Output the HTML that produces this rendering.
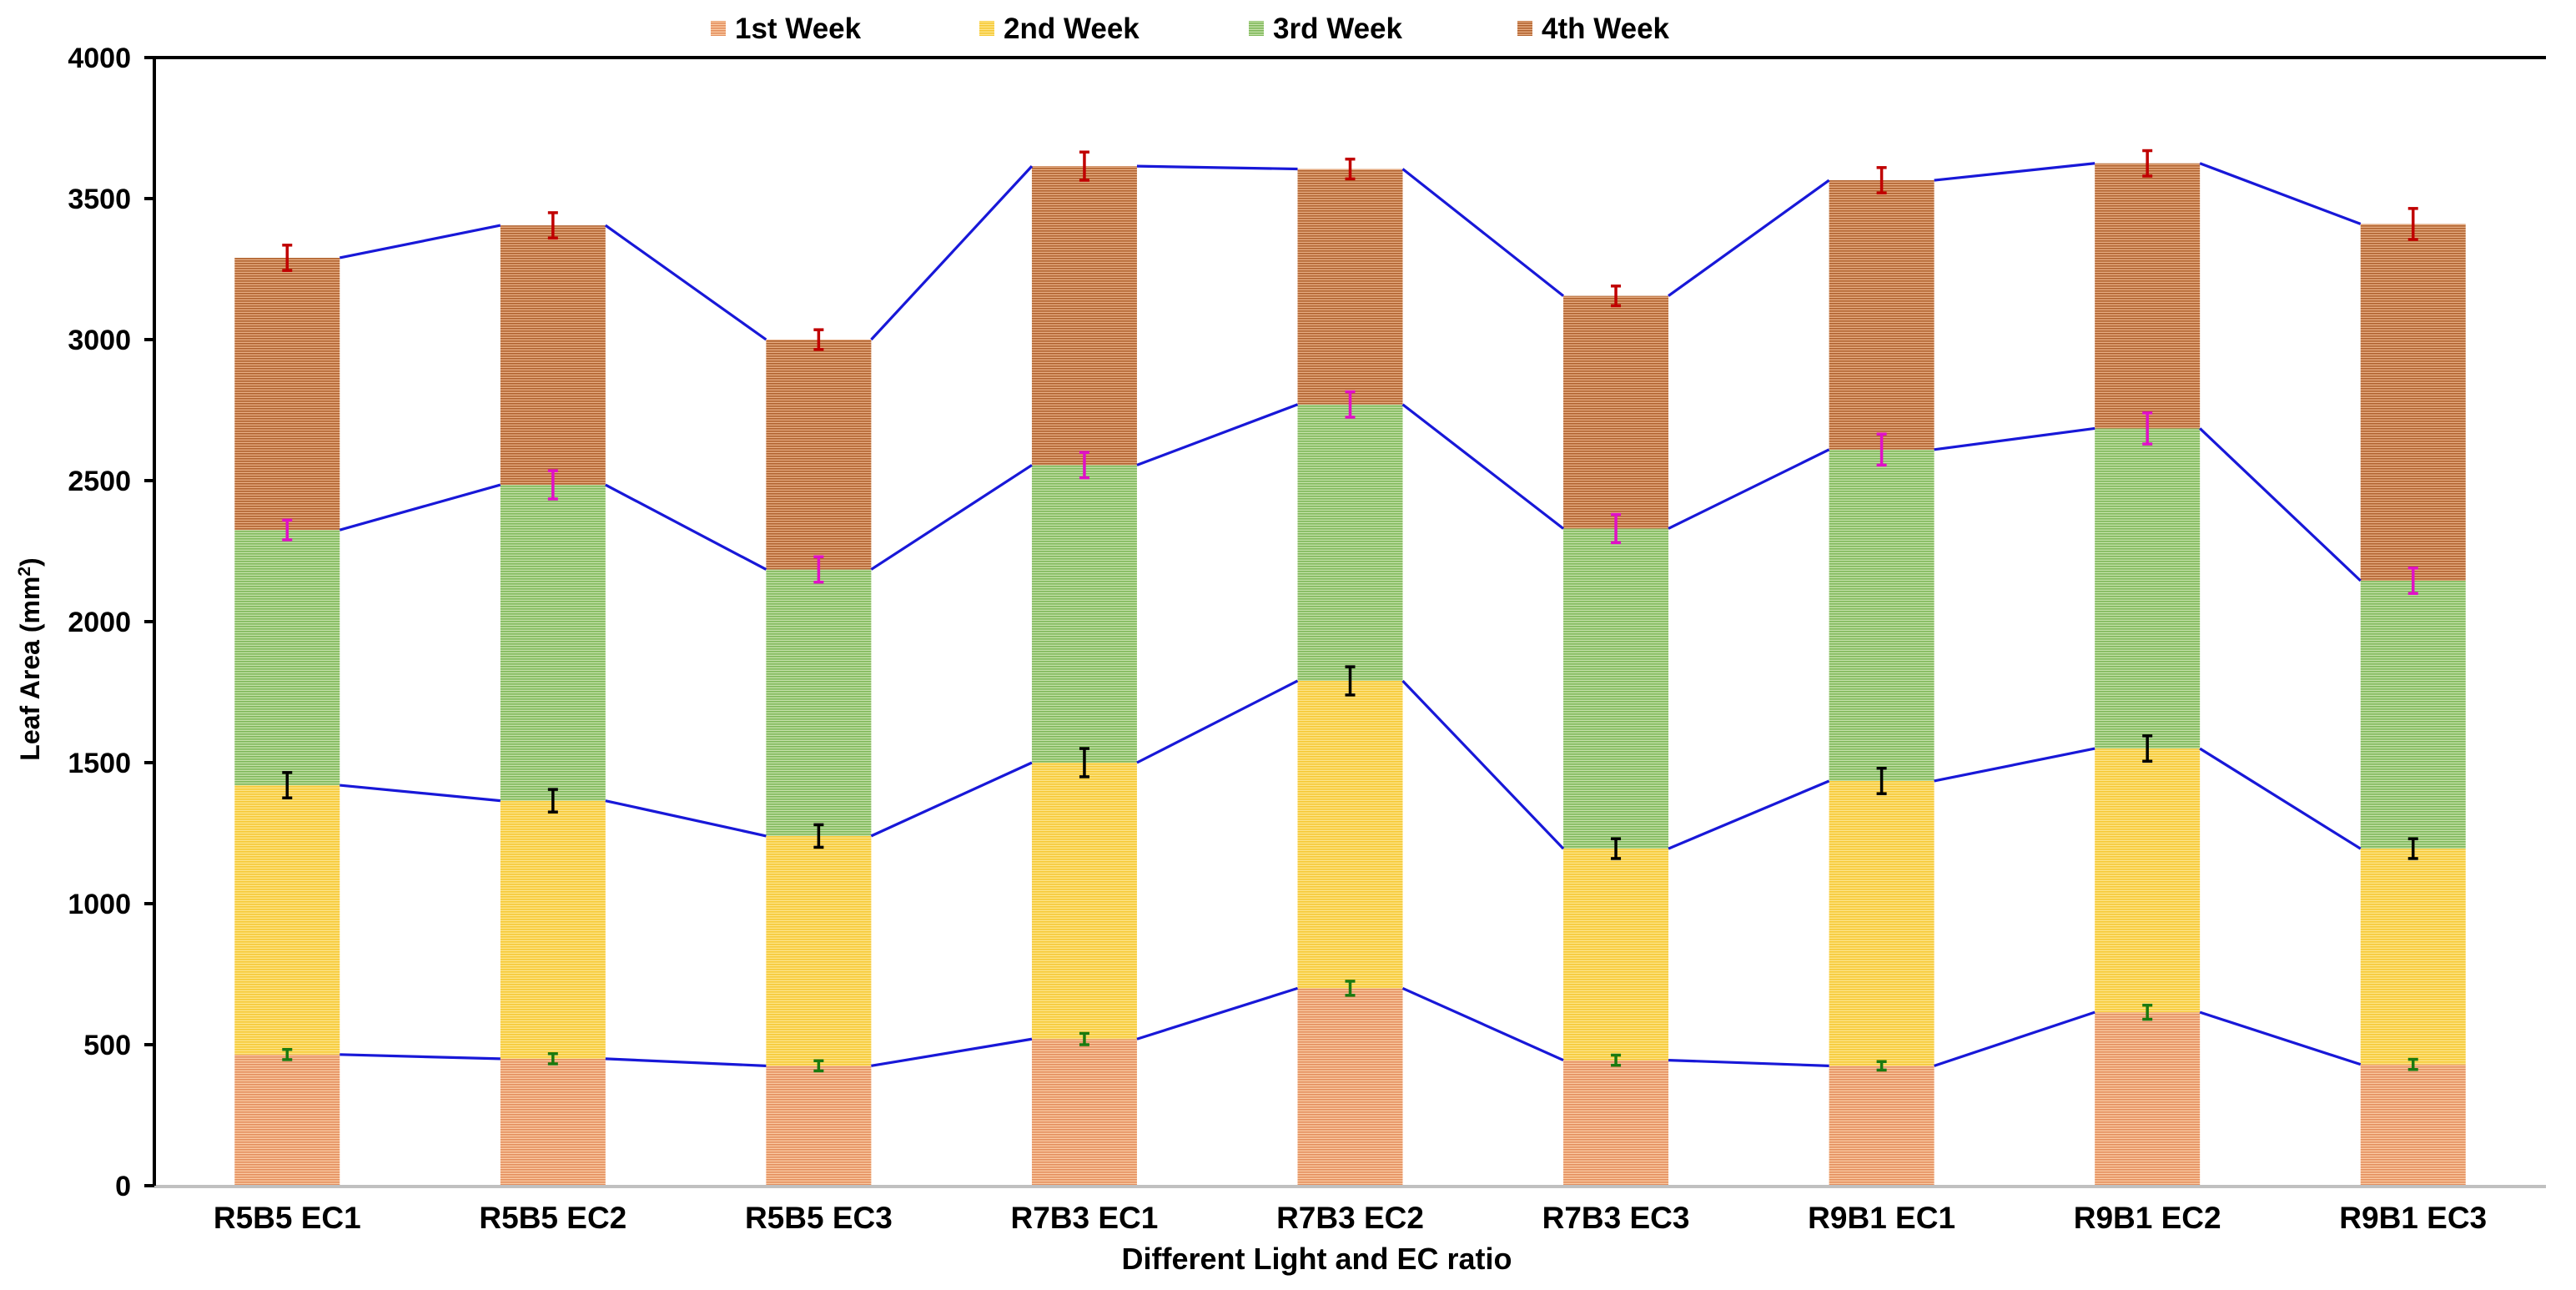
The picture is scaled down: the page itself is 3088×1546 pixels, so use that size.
<!DOCTYPE html>
<html><head><meta charset="utf-8"><style>
html,body{margin:0;padding:0;background:#fff}
svg{display:block}
text{font-family:"Liberation Sans",Arial,sans-serif;font-weight:bold;fill:#000}
</style></head><body>
<svg id="chart" width="3088" height="1546" viewBox="0 0 3088 1546" xmlns="http://www.w3.org/2000/svg">
<defs>
<pattern id="p0" width="6" height="3" patternUnits="userSpaceOnUse"><rect width="6" height="3" fill="#f9c9a2"/><rect width="6" height="1.6" fill="#e48f5e"/></pattern>
<pattern id="p1" width="6" height="3" patternUnits="userSpaceOnUse"><rect width="6" height="3" fill="#fde48a"/><rect width="6" height="1.6" fill="#f6c935"/></pattern>
<pattern id="p2" width="6" height="3" patternUnits="userSpaceOnUse"><rect width="6" height="3" fill="#c4e0a8"/><rect width="6" height="1.6" fill="#7fb85a"/></pattern>
<pattern id="p3" width="6" height="3" patternUnits="userSpaceOnUse"><rect width="6" height="3" fill="#e6ac82"/><rect width="6" height="1.6" fill="#b0622f"/></pattern>
</defs>
<g id="plot"></g>
</svg>
<script>
const categories=["R5B5 EC1","R5B5 EC2","R5B5 EC3","R7B3 EC1","R7B3 EC2","R7B3 EC3","R9B1 EC1","R9B1 EC2","R9B1 EC3"];
const week1=[465,450,425,520,700,445,425,615,430];
const week2=[955,915,815,980,1090,750,1010,935,765];
const week3=[905,1120,945,1055,980,1135,1175,1135,950];
const week4=[965,920,815,1060,835,825,955,940,1265];
const err1=[18,18,18,20,25,18,15,25,18];
const err2=[45,40,40,50,50,35,45,45,35];
const err3=[35,50,45,45,45,50,55,55,45];
const err4=[45,45,35,50,35,35,45,45,55];
const yTicks=[0,500,1000,1500,2000,2500,3000,3500,4000];
const seriesNames=["1st Week","2nd Week","3rd Week","4th Week"];

const NS="http://www.w3.org/2000/svg";
const svg=document.getElementById('plot');
const X0=185,X1=3052,Y0=1421,Y1=69,YMAX=4000;
const bw=(X1-X0)/categories.length;
const barW=126;
function y(v){return Y0-(v/YMAX)*(Y0-Y1);}
function xc(i){return X0+bw*(i+0.5);}
function mk(tag,attrs,parent){const e=document.createElementNS(NS,tag);for(const k in attrs)e.setAttribute(k,attrs[k]);(parent||svg).appendChild(e);return e;}

const series=[week1,week2,week3,week4];
const errs=[err1,err2,err3,err4];
const errColors=["#1a7a10","#000000","#e010c8","#c00000"];
const cum=categories.map((c,i)=>{let s=0;return series.map(a=>s+=a[i]);});

series.forEach((arr,si)=>{
  categories.forEach((c,i)=>{
    const top=cum[i][si],bot=top-arr[i];
    const r=mk('rect',{x:xc(i)-barW/2,y:y(top),width:barW,height:y(bot)-y(top),fill:`url(#p${si})`});
    
    
  });
});
series.forEach((arr,si)=>{
  for(let i=0;i<categories.length-1;i++){
    const l=mk('line',{x1:xc(i)+barW/2,y1:y(cum[i][si]),x2:xc(i+1)-barW/2,y2:y(cum[i+1][si]),stroke:'#1818d8','stroke-width':3.2});
    
    
  }
});
series.forEach((arr,si)=>{
  categories.forEach((c,i)=>{
    const v=cum[i][si],e=errs[si][i],cx=xc(i);
    const g=mk('g',{stroke:errColors[si],'stroke-width':3.5});
    
    
    mk('line',{x1:cx,y1:y(v+e),x2:cx,y2:y(v-e)},g);
    mk('line',{x1:cx-6,y1:y(v+e),x2:cx+6,y2:y(v+e)},g);
    mk('line',{x1:cx-6,y1:y(v-e),x2:cx+6,y2:y(v-e)},g);
  });
});
let a=mk('line',{x1:X0,y1:Y0+1,x2:X1,y2:Y0+1,stroke:'#c0c0c0','stroke-width':4});

a=mk('line',{x1:X0,y1:Y1,x2:X0,y2:Y0,stroke:'#000','stroke-width':4});

a=mk('line',{x1:X0,y1:Y1,x2:X1,y2:Y1,stroke:'#000','stroke-width':4});

yTicks.forEach(t=>{
  const l=mk('line',{x1:X0-12,y1:y(t),x2:X0,y2:y(t),stroke:'#000','stroke-width':4});
  
  const tx=mk('text',{x:X0-28,y:y(t)+12,'text-anchor':'end','font-size':34});
  tx.textContent=t;
  
});
categories.forEach((c,i)=>{
  const tx=mk('text',{x:xc(i),y:1472,'text-anchor':'middle','font-size':37});
  tx.textContent=c;
  
});
let t=mk('text',{x:(X0+X1)/2-40,y:1521,'text-anchor':'middle','font-size':36});
t.textContent='Different Light and EC ratio';

t=mk('text',{x:0,y:0,'text-anchor':'middle','font-size':32,transform:'translate(47,790) rotate(-90)'});
t.innerHTML='Leaf Area (mm<tspan font-size="21" dy="-11">2</tspan><tspan dy="11">)</tspan>';

const legX=[852,1174,1497,1819];
seriesNames.forEach((n,si)=>{
  const g=mk('g',{});
  
  
  mk('rect',{x:legX[si],y:25,width:18,height:18,fill:`url(#p${si})`},g);
  const tx=mk('text',{x:legX[si]+29,y:46,'font-size':35},g);
  tx.textContent=n;
});
</script>
</body></html>
